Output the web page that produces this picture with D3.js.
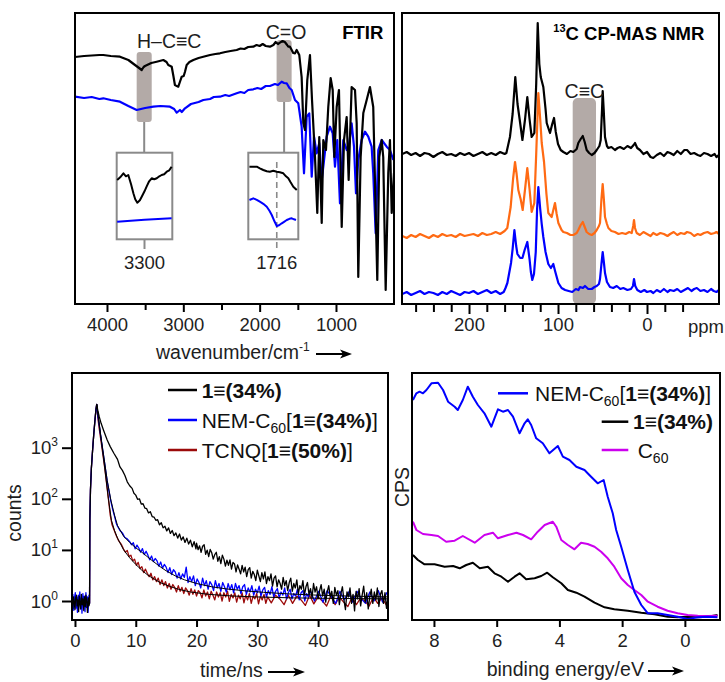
<!DOCTYPE html>
<html>
<head>
<meta charset="utf-8">
<script src="https://cdn.jsdelivr.net/npm/d3@7"></script>
<style>
  body { margin: 0; background: #fff; }
  svg { font-family: "Liberation Sans", Arial, sans-serif; }
</style>
</head>
<body>
<svg id="fig" width="725" height="682"></svg>
<script>
// ---------- FTIR (wavenumber, arbitrary transmittance) ----------
var ftirBlack = [[4419,247],[4300,248],[4200,248.5],[4100,249],[4048,249],[3950,248],[3830,247.3],[3720,244],[3633,239],[3580,236],[3545,234],[3520,237],[3502,238],[3420,241],[3349,242.3],[3262,244],[3220,242],[3197,239],[3170,238],[3152,237.3],[3130,228],[3110,219],[3085,218],[3066,217.3],[3045,222],[3021,227.3],[2995,228],[2978,232.3],[2956,239],[2920,242],[2869,244],[2800,246],[2738,247.3],[2650,249],[2580,250],[2520,250.7],[2450,252],[2380,253],[2301,254],[2250,255.5],[2200,255],[2150,257],[2083,257.3],[2040,259],[2000,258],[1960,260],[1920,258],[1865,257.3],[1820,259],[1790,262],[1760,260],[1734,261.3],[1700,263],[1670,262],[1640,259],[1625,257.3],[1603,257.3],[1580,254],[1560,251],[1537,250.7],[1515,254],[1481,249],[1450,227],[1428,181],[1406,174],[1376,224],[1341,249],[1314,204],[1275,147],[1245,91],[1219,167],[1187,81],[1166,164],[1131,154],[1101,197],[1070,226],[1043,214],[1022,147],[991,197],[961,214],[925,77],[895,164],[860,187],[834,124],[795,217],[751,214],[729,181],[708,27],[677,147],[642,191],[598,204],[555,217],[512,197],[459,24],[433,147],[401,164],[381,147],[349,14],[315,131],[293,164],[270,91],[240,131]];
var ftirBlue = [[4419,207.3],[4300,206],[4200,207],[4100,205],[4048,205.7],[3950,204],[3830,202.3],[3720,198],[3611,194],[3500,196],[3393,197.3],[3300,198],[3175,197.3],[3120,195],[3087,191.3],[3060,193],[3044,194],[3020,192],[2978,195.7],[2900,200],[2800,202],[2738,204],[2650,205],[2600,207],[2520,207.3],[2450,209],[2400,208],[2301,210.7],[2250,212],[2200,211],[2150,214],[2083,214.7],[2030,216],[1980,215],[1920,218],[1865,218],[1800,220],[1760,219],[1712,222.3],[1680,221],[1646,220.7],[1610,216],[1580,214],[1537,204],[1494,200.7],[1450,177.3],[1419,130.7],[1384,187.3],[1350,190.7],[1318,127.3],[1288,167.3],[1253,150.7],[1219,160.7],[1187,124],[1166,137.3],[1122,167.3],[1079,177.3],[1043,170.7],[1013,137.3],[983,164],[948,100.7],[904,164],[860,154],[826,160.7],[795,180.7],[764,157.3],[738,110.7],[708,144],[664,164],[620,172.3],[577,167.3],[533,157.3],[512,130.7],[480,70.7],[446,154],[401,164],[336,157.3],[293,154],[249,144]];
var ftirTicks = [4000,3500,3000,2500,2000,1500,1000];
var ftirLabels = [4000,3000,2000,1000];
// highlighted bands [wn from, wn to, v low, v high]
var bandCH = [3611,3414,182,252];
var bandCO = [1778,1581,202,264];

// insets
var insetCHBlack = [[3418,59.3],[3405,62],[3391,66],[3380,63],[3370,64.3],[3358,55],[3348,46],[3340,40],[3331,36.6],[3320,39],[3312,42.6],[3300,48],[3291,52.6],[3280,58],[3269,61],[3258,60],[3247,61],[3236,63],[3226,64.3],[3215,65],[3204,67.6],[3193,69],[3183,72.6]];
var insetCHBlue = [[3418,17.6],[3300,19.5],[3183,21]];
var insetCOBlack = [[1787,72.6],[1768,72.6],[1760,71],[1751,69.3],[1742,68],[1734,67.6],[1725,68.5],[1716,67.6],[1708,67],[1699,66],[1692,63],[1686,61],[1680,57],[1673,52.6],[1664,49.3]];
var insetCOBlue = [[1787,39.3],[1777,41],[1768,39.5],[1760,37.6],[1751,35.5],[1742,32.6],[1735,28.5],[1729,24.3],[1722,18],[1716,13.3],[1710,14],[1703,16],[1697,17.5],[1690,19.3],[1683,20.5],[1677,21],[1671,20],[1666,19.3]];

// ---------- 13C NMR (ppm, arbitrary) ----------
var nmrBlack = [[275,150],[270,152],[265,149],[260,151],[255,148],[250,151],[245,150],[240,147],[235,150],[230,152],[225,149],[220,150],[215,148],[210,151],[205,149],[200,151],[195,148],[190,150],[185,152],[180,149],[175,151],[170,149],[165,152],[160,150],[158,151],[154,167],[151,190],[148,227],[145.5,200],[143,184],[140,164],[137,185],[134.5,207],[132,185],[129.6,167],[126.6,171],[124.5,220],[122.8,281],[121,240],[119.4,227],[116.5,217],[114,195],[112.7,181],[109,171],[106.5,180],[104.5,186],[102.5,172],[100,160],[97,154],[94,152],[90,150],[86,153],[82.8,152],[79,155],[77.2,161],[74.5,165],[72.2,168],[70,162],[67.8,154],[65,151],[62.1,149],[59,151],[56.5,154],[53.5,158],[52,164],[50.5,195],[49.8,213],[48.7,195],[47.2,167],[45,158],[43.4,156],[40,157],[36,154],[33,156],[30.3,157],[26,155],[22,158],[18,156],[15,159],[13.5,161],[11,156],[7.9,154],[4,150],[0,152],[-4,147],[-7,146],[-11,149],[-15,151],[-19,148],[-23,152],[-26,151],[-30,149],[-34,153],[-38,150],[-42,154],[-45,154],[-49,150],[-53,151],[-57,149],[-60,148],[-64,151],[-68,150],[-72,148],[-76,150],[-78,147],[-81,149]];
var nmrOrange = [[275,68],[270,66],[265,69],[260,67],[255,70],[250,68],[245,66],[240,69],[235,67],[230,70],[225,68],[220,69],[215,67],[210,70],[205,68],[200,69],[195,70],[190,68],[185,71],[180,69],[175,70],[170,72],[165,70],[160,73],[157,76],[153.2,97],[150.5,125],[148.3,142],[146.5,130],[144.6,114],[142,105],[139.7,94],[137,115],[134.5,136],[132,115],[129.6,92],[126.6,101],[124.5,150],[122.1,211],[120,185],[118.3,161],[115.7,142],[113,110],[110.9,91],[107.1,87],[105,95],[103.4,101],[101.5,90],[99.6,81],[96,74],[94,72],[90,71],[86,69],[82.8,69],[79,71],[77.2,74],[74.5,79],[72.2,82],[70,77],[67.8,72],[65,70],[62.1,69],[59,71],[56.5,74],[54,78],[52.8,81],[51.2,105],[49.8,120],[48.5,105],[47.2,87],[45,80],[43.4,76],[40,73],[36,72],[32,70],[28,71],[24,70],[20,72],[17.2,71],[15.5,78],[14.6,84],[13.5,76],[11.6,71],[8,69],[4,72],[0,70],[-4,68],[-7,71],[-11,69],[-15,71],[-19,70],[-23,68],[-26,70],[-30,72],[-34,69],[-38,71],[-42,70],[-45,72],[-49,71],[-53,68],[-57,70],[-60,69],[-64,71],[-68,72],[-72,70],[-76,71],[-78,72],[-81,70]];
var nmrBlue = [[275,10],[270,12],[265,9],[260,11],[255,13],[250,10],[245,12],[240,11],[235,9],[230,12],[225,10],[220,13],[215,11],[210,9],[205,12],[200,11],[195,13],[190,10],[185,12],[180,14],[175,11],[170,13],[165,10],[161,12],[159,16],[156.9,21],[152.8,41],[151,55],[149,74],[147,58],[145.6,50],[142.5,46],[140,46],[137.5,54],[134.5,62],[132,45],[130.5,32],[128.9,24],[127,30],[125,52],[123.5,95],[122.1,117],[120,95],[118.3,80],[116.5,67],[114,52],[110.9,40],[108,36],[105.3,40],[103,32],[99.6,21],[96,16],[92,14],[88,13],[84,12],[80,15],[77,14],[75.3,17],[72,16],[69.7,18],[66,15],[62.1,15],[59,17],[56.5,18],[54,20],[52.8,25],[51.2,40],[49.8,52],[48.5,42],[47.2,31],[45,22],[41.6,17],[38,16],[34,18],[30,15],[26.6,16],[22,14],[18,15],[15.8,18],[14.6,25],[13.2,18],[10.9,14],[7,12],[3,14],[0,12],[-4,13],[-7.1,11],[-11,14],[-15,12],[-19,15],[-23,12],[-26,14],[-30,13],[-34,15],[-38,12],[-42,14],[-46,16],[-50,13],[-53,15],[-56,16],[-60,13],[-64,14],[-68,12],[-72,15],[-75,13],[-78,12],[-81,14]];
var nmrTicks = [260,240,220,200,180,160,140,120,100,80,60,40,20,0,-20,-40];
var nmrLabels = [200,100,0];
var bandCC = [83.5,57.3,0,206];

// ---------- fluorescence decay (time/ns, counts) ----------
var decayBlack = [[-0.45,1.0],[-0.35,0.72],[-0.25,1.2],[-0.1,0.9],[0.0,0.68],[0.1,1.15],[0.25,1.3],[0.35,0.8],[0.45,1.05],[0.6,0.62],[0.7,1.25],[0.8,0.95],[0.95,0.7],[1.05,1.35],[1.2,0.85],[1.3,1.1],[1.45,0.65],[1.55,1.2],[1.7,0.78],[1.8,1.3],[1.95,0.95],[2.05,0.6],[2.2,1.15],[2.3,0.8],[2.4,0.9],[2.45,40],[2.55,150],[2.7,400],[2.9,900],[3.1,1900],[3.3,3600],[3.45,5600],[3.58,7050],[3.75,5400],[4.0,4000],[4.3,3000],[4.7,2200],[5.3,1415],[5.8,1050],[6.4,780],[7.0,590],[7.4,420],[7.8,360],[8.2,290],[8.6,215],[9.0,180],[9.4,160],[9.7,128],
[10.0,118],[10.3,98],[10.6,100],[10.9,79],[11.2,80],[11.5,66],[11.8,64],[12.1,53],[12.4,56],[12.7,45],[13.0,44],[13.3,38],[13.6,39],[13.9,31],[14.2,34],[14.5,27],[14.8,29],[15.1,23.5],[15.4,27],[15.7,21],[16.0,24],[16.3,19],[16.6,21.5],[16.9,17],[17.2,20.5],[17.5,15.5],[17.8,18],[18.1,14],[18.4,17],[18.7,13],[19.0,15.5],[19.3,11.5],[19.6,14.5],[19.9,10.5],
[20.0,13.6],[20.25,10.1],[20.5,12.0],[20.75,9.0],[21.0,11.8],[21.25,12.6],[21.5,8.2],[21.75,9.9],[22.0,7.4],[22.25,10.2],[22.5,8.8],[22.75,6.6],[23.0,8.1],[23.25,9.0],[23.5,6.0],[23.75,7.4],[24.0,5.4],[24.25,7.9],[24.5,6.6],[24.75,4.8],[25.0,6.3],[25.25,5.0],[25.5,6.4],[25.75,4.2],[26.0,5.7],[26.25,5.3],[26.5,3.7],[26.75,5.1],[27.0,4.2],[27.25,3.4],[27.5,5.0],[27.75,3.7],[28.0,4.6],[28.25,3.0],[28.5,4.1],[28.75,4.5],[29.0,2.8],[29.25,3.8],[29.5,3.3],[29.75,2.5],[30.0,4.0],[30.25,3.1],[30.5,2.4],[30.75,3.6],[31.0,2.7],[31.25,3.7],[31.5,2.2],[31.75,3.0],[32.0,2.5],[32.25,3.4],[32.5,1.95],[32.75,2.8],[33.0,3.1],[33.25,1.9],[33.5,2.6],[33.75,2.2],[34.0,1.7],[34.25,2.9],[34.5,2.0],[34.75,2.5],[35.0,1.6],[35.25,2.3],[35.5,2.8],[35.75,1.55],[36.0,2.2],[36.25,1.8],[36.5,2.6],[36.75,1.4],[37.0,2.0],[37.25,1.7],[37.5,2.5],[37.75,1.3],[38.0,1.9],[38.25,2.3],[38.5,1.35],[38.75,1.75],[39.0,1.15],[39.25,2.2],[39.5,1.5],[39.75,1.9],[40.0,1.1],[40.25,1.6],[40.5,2.1],[40.75,1.25],[41.0,1.7],[41.25,0.95],[41.5,1.5],[41.75,2.0],[42.0,1.2],[42.25,1.55],[42.5,0.9],[42.75,1.85],[43.0,1.3],[43.25,1.6],[43.5,0.85],[43.75,1.4],[44.0,1.9],[44.25,1.05],[44.5,0.68],[44.75,1.5],[45.0,1.2],[45.25,1.8],[45.5,0.9],[45.75,1.35],[46.0,0.64],[46.25,1.55],[46.5,1.1],[46.75,1.75],[47.0,0.8],[47.25,1.3],[47.5,1.95],[47.75,0.95],[48.0,1.45],[48.25,0.7],[48.5,1.2],[48.75,1.7],[49.0,0.9],[49.25,1.5],[49.5,1.05],[49.75,1.8],[50.0,0.78],[50.25,1.35],[50.5,1.6],[50.75,0.9],[51.0,1.45],[51.25,0.72],[51.5,1.25],[51.75,1.7],[52.0,1.0],[52.2,1.4]];
var decayBlue = [[-0.45,0.8],[-0.35,1.35],[-0.2,0.66],[-0.1,1.1],[0.05,1.45],[0.15,0.72],[0.3,1.2],[0.4,0.6],[0.55,1.3],[0.65,0.9],[0.8,1.5],[0.9,0.7],[1.05,1.15],[1.15,0.58],[1.3,1.4],[1.4,0.85],[1.55,1.25],[1.65,0.62],[1.8,1.45],[1.9,0.75],[2.05,1.2],[2.15,0.6],[2.3,1.3],[2.4,0.9],[2.45,40],[2.55,150],[2.7,400],[2.9,900],[3.1,1900],[3.3,3600],[3.45,5600],[3.58,7050],[3.75,4300],[4.0,2700],[4.3,1500],[4.6,850],[4.9,480],[5.3,220],[5.6,140],[5.9,90],[6.2,62],[6.5,46],[6.8,33],[7.0,29],[7.4,24],[7.8,21.5],[8.2,17.5],[8.6,16.5],
[9.0,14.5],[9.3,12.6],[9.6,13.8],[9.9,10.5],[10.2,12.4],[10.5,10.9],[10.8,9.0],[11.1,10.6],[11.4,8.1],[11.7,9.4],[12.0,7.9],[12.3,6.4],[12.6,7.6],[12.9,5.9],[13.2,6.8],[13.5,6.1],[13.8,4.8],[14.1,5.8],[14.4,4.4],[14.7,5.2],[15.0,4.6],[15.3,3.6],[15.6,4.5],[15.9,3.3],[16.2,4.1],[16.5,3.7],[16.8,2.8],[17.1,3.6],[17.4,2.7],[17.7,3.4],[18.0,2.9],[18.3,4.6],[18.6,2.3],[18.9,3.0],[19.2,2.4],[19.5,3.1],[19.8,2.0],[20.1,2.7],[20.4,2.3],[20.7,1.8],[21.0,2.8],[21.3,2.0],[21.6,2.5],[21.9,1.7],[22.2,2.4],[22.5,2.1],[22.8,1.6],[23.1,2.5],[23.4,1.8],[23.7,2.2],[24.0,1.55],[24.3,2.3],[24.6,1.9],[24.9,1.5],[25.2,2.2],[25.5,1.65],[25.8,2.1],[26.1,1.45],[26.4,2.2],[26.7,1.7],[27.0,2.0],[27.3,1.4],[27.6,1.9],[27.9,2.1],[28.2,1.35],[28.5,1.8],[28.8,1.5],[29.1,2.0],[29.4,1.3],[29.7,1.7],[30.0,1.45],[30.3,1.95],[30.6,1.25],[30.9,1.65],[31.2,1.85],[31.5,1.2],[31.8,1.6],[32.1,1.35],[32.4,1.9],[32.7,1.2],[33.0,1.55],[33.3,1.75],[33.6,1.15],[33.9,1.5],[34.2,1.3],[34.5,1.8],[34.8,1.1],[35.1,1.45],[35.4,1.7],[35.7,1.1],[36.0,1.4],[36.3,1.25],[36.6,1.7],[36.9,1.05],[37.2,1.45],[37.5,1.6],[37.8,1.0],[38.1,1.4],[38.4,1.2],[38.7,1.6],
[39.4,1.0],[40.1,1.55],[40.8,0.95],[41.5,1.6],[42.2,1.2],[42.9,0.9],[43.6,1.55],[44.3,1.05],[45.0,1.5],[45.7,0.95],[46.4,1.55],[47.1,1.1],[47.8,0.9],[48.5,1.5],[49.2,1.0],[49.9,1.6],[50.6,0.95],[51.3,1.45],[52.2,1.2]];
var decayRed = [[2.4,0.9],[2.45,40],[2.55,150],[2.7,400],[2.9,900],[3.1,1900],[3.3,3600],[3.45,5600],[3.58,7050],[3.75,3900],[4.0,2300],[4.3,1300],[4.6,720],[4.9,400],[5.2,200],[5.5,100],[5.8,48],[6.1,31],[6.4,25],[6.8,19],[7.2,15],[7.6,13],
[8.0,10.4],[8.3,9.0],[8.6,9.8],[8.9,7.4],[9.2,7.9],[9.5,6.1],[9.8,6.6],[10.1,5.0],[10.4,5.7],[10.7,4.3],[11.0,4.7],[11.3,3.6],[11.6,4.2],[11.9,3.5],[12.2,3.0],[12.5,3.5],[12.8,2.6],[13.1,3.0],[13.4,2.4],[13.7,2.8],[14.0,2.1],[14.3,2.6],[14.6,2.0],[14.9,2.4],[15.2,1.8],[15.5,2.2],[15.8,1.7],[16.1,2.1],[16.4,1.85],[16.7,1.5],[17.0,2.0],[17.3,1.55],[17.6,1.85],[17.9,1.4],[18.2,1.8],[18.5,1.6],[18.8,1.3],[19.1,1.75],[19.4,1.35],[19.7,1.65],[20.0,1.25],[20.3,1.6],[20.6,1.45],[20.9,1.15],[21.2,1.65],[21.5,1.25],[21.8,1.5],[22.1,1.1],[22.4,1.55],[22.7,1.3],[23.0,1.05],[23.3,1.5],[23.6,1.2],[23.9,1.45],[24.2,1.0],[24.5,1.45],[24.8,1.2],[25.1,1.55],[25.4,0.98],[25.7,1.35],[26.0,1.15],[26.3,1.45],[26.6,0.95],[26.9,1.3],[27.2,1.1],[27.5,1.45],[27.8,0.92],[28.1,1.3],[28.4,1.05],[28.7,1.4],[29.0,0.9],[29.3,1.25],[29.6,1.1],[29.9,1.4],[30.2,0.88],[30.5,1.25],[30.8,1.05],[31.1,1.35],[31.4,0.9],[31.7,1.2],
[32.3,0.92],[33.0,1.3],[33.7,1.1],[34.4,0.85],[35.1,1.3],[35.8,0.9],[36.5,1.25],[37.2,1.05],[37.9,0.82],[38.6,1.3],[39.3,0.88],[40.0,1.2],[40.7,1.0],[41.4,0.8],[42.1,1.25],[42.8,0.85],[43.5,1.2],[44.2,0.95],[44.9,0.78],[45.6,1.2],[46.3,0.85],[47.0,1.15],[47.7,1.0],[48.4,0.8],[49.1,1.2],[49.8,0.9],[50.5,1.15],[51.2,0.85],[52.2,1.05]];
var fitBlue = [[3.58,7050],[4.2,1800],[4.8,600],[5.3,230],[5.9,95],[6.5,48],[7.0,30],[8.0,18.5],[9.0,14],[10.0,11],[11.0,9.0],[12.0,7.2],[13.0,5.8],[14.0,4.7],[15.0,3.9],[16.5,3.1],[18.0,2.6],[20.0,2.2],[22.5,1.9],[25.0,1.72],[28,1.58],[31,1.48],[35,1.38],[40,1.3],[45,1.25],[52,1.2]];
var fitRed = [[3.58,7050],[4.3,1500],[4.9,400],[5.5,100],[6.0,38],[6.5,24],[7.0,17],[8.0,10],[9.0,7.0],[10.0,5.2],[11.0,4.0],[12.0,3.2],[13.0,2.7],[14.0,2.3],[15.5,1.95],[17.0,1.7],[19,1.5],[22,1.35],[26,1.25],[30,1.2],[36,1.15],[44,1.12],[52,1.1]];
var decayTicksX = [0,10,20,30,40];
var decayTicksY = [1,10,100,1000];

// ---------- XPS valence band (binding energy/eV, CPS) ----------
var xpsBlue = [[8.67,220],[8.56,226.7],[8.46,228.3],[8.35,226.7],[8.24,230],[8.08,236.7],[7.87,237.3],[7.71,230],[7.55,218.3],[7.34,213.3],[7.24,210],[7.08,220],[6.92,233.3],[6.76,223.3],[6.60,215],[6.39,206.7],[6.17,193.3],[6.07,201.7],[5.96,210.7],[5.80,208.3],[5.64,210],[5.48,203.3],[5.27,186.7],[5.11,196.7],[5.01,200.7],[4.90,195],[4.74,181.7],[4.53,176.7],[4.32,166.7],[4.05,174],[3.89,163.3],[3.68,160],[3.46,153.3],[3.20,150],[2.99,143.3],[2.78,136.7],[2.59,140],[2.46,123.3],[2.30,106.7],[2.19,90],[2.03,73.3],[1.82,50],[1.61,28.3],[1.39,15],[1.18,6.7],[0.87,6.7],[0.55,5],[0.23,3.3],[-0.09,1],[-0.41,2.7],[-0.73,3.3],[-1.04,2.7]];
var xpsMagenta = [[8.67,98.3],[8.56,90],[8.35,86],[8.08,85],[7.87,84],[7.61,78.3],[7.34,79.3],[7.08,84],[6.70,77.3],[6.39,85],[6.12,87.3],[5.96,81.7],[5.64,85],[5.37,87.3],[5.16,85],[4.90,80.7],[4.69,88.3],[4.47,95],[4.21,98.3],[4.10,93.3],[3.94,80],[3.73,75],[3.52,70.7],[3.31,77.3],[3.10,76],[2.88,73.3],[2.67,68.3],[2.46,61.7],[2.25,53.3],[2.03,41.7],[1.82,35],[1.61,30],[1.39,25],[1.18,18.3],[0.87,13.3],[0.55,9.3],[0.23,6.7],[-0.09,5],[-0.41,4.3],[-0.73,4],[-1.04,4.3]];
var xpsBlack = [[8.67,65],[8.51,60],[8.30,55.7],[7.98,55.7],[7.66,53.3],[7.39,54],[7.18,51.7],[6.97,55],[6.76,57.3],[6.54,51.7],[6.28,53.3],[6.07,46.7],[5.85,43.3],[5.64,38.3],[5.43,43.3],[5.27,46.7],[5.06,40.7],[4.79,41.7],[4.58,44],[4.39,47.3],[4.21,42.7],[3.94,36.7],[3.73,30],[3.46,27.3],[3.20,23.3],[2.88,17.3],[2.56,12.7],[2.25,10.7],[1.82,9.3],[1.39,7.3],[0.97,5.7],[0.55,3.3],[0.23,2.7],[-0.09,3.3],[-0.41,2.7],[-0.73,3.3],[-1.04,5]];
var xpsTicks = [8,6,4,2,0];

var BLUE = '#0000ff', ORANGE = '#ff6a13', RED = '#9b0a0a', MAGENTA = '#cc00ee', BAND = '#b3aaa7', GREY = '#8a8a8a';

const svg = d3.select('#fig');
const FS = 19.5;
const TXT = '#1e1e1e';

function frame(box) {
    svg.append('rect')
        .attr('x', box.left).attr('y', box.top)
        .attr('width', box.right - box.left).attr('height', box.bottom - box.top)
        .attr('fill', 'none').attr('stroke', '#000').attr('stroke-width', 2);
}

function clipFor(id, box) {
    svg.append('clipPath').attr('id', id).append('rect')
        .attr('x', box.left).attr('y', box.top)
        .attr('width', box.right - box.left).attr('height', box.bottom - box.top);
    return svg.append('g').attr('clip-path', `url(#${id})`);
}

function curve(g, data, x, y, color, w) {
    g.append('path').datum(data)
        .attr('fill', 'none').attr('stroke', color).attr('stroke-width', w)
        .attr('stroke-linejoin', 'round')
        .attr('d', d3.line().x(d => x(d[0])).y(d => y(d[1])));
}

function bottomAxis(x, box, ticks, labels, size) {
    let ax = d3.axisBottom(x).tickValues(ticks)
        .tickFormat(d => labels.includes(d) ? d : '')
        .tickSize(size).tickSizeOuter(0);
    let g = svg.append('g').attr('transform', `translate(0,${box.bottom})`).call(ax);
    g.select('.domain').remove();
    g.selectAll('line').attr('stroke', '#000').attr('stroke-width', 2)
        .attr('y2', d => labels.includes(d) ? size : size - 2);
    g.selectAll('text').attr('font-size', 18.5).attr('fill', TXT)
        .attr('font-family', '"Liberation Sans", Arial, sans-serif').attr('y', 14);
    return g;
}

function arrow(x1, x2, y) {
    svg.append('line').attr('x1', x1).attr('x2', x2 - 6).attr('y1', y).attr('y2', y)
        .attr('stroke', '#000').attr('stroke-width', 2);
    svg.append('path').attr('d', `M${x2},${y} L${x2 - 12},${y - 4.5} L${x2 - 9},${y} L${x2 - 12},${y + 4.5} Z`)
        .attr('fill', '#000');
}

function label(x, y, txt, opts) {
    opts = opts || {};
    return svg.append('text').attr('x', x).attr('y', y)
        .attr('font-size', opts.size || FS)
        .attr('font-weight', opts.bold ? 'bold' : 'normal')
        .attr('text-anchor', opts.anchor || 'start')
        .attr('fill', opts.fill || TXT)
        .text(txt);
}

// ===== panel 1 : FTIR =====
const ftirBox = {left: 75, right: 394, top: 13, bottom: 304};
const ftirX = d3.scaleLinear().domain([4419, 240]).range([ftirBox.left, ftirBox.right]);
const ftirY = d3.scaleLinear().domain([0, 291]).range([ftirBox.bottom, ftirBox.top]);

const gF = clipFor('clipF', ftirBox);
[bandCH, bandCO].forEach(b => {
    gF.append('rect')
        .attr('x', ftirX(b[0])).attr('width', ftirX(b[1]) - ftirX(b[0]))
        .attr('y', ftirY(b[3])).attr('height', ftirY(b[2]) - ftirY(b[3]))
        .attr('rx', 3).attr('fill', BAND);
});
curve(gF, ftirBlue, ftirX, ftirY, BLUE, 2.2);
curve(gF, ftirBlack, ftirX, ftirY, '#000', 2.2);

// insets (box pixel layout, own scales)
function inset(bx, wnDomain, blackData, blueData, band, markWn, dashed) {
    let ix = d3.scaleLinear().domain(wnDomain).range([bx[0], bx[1]]);
    let iy = d3.scaleLinear().domain([0, 86.6]).range([239.3, 152.7]);
    let cx = ftirX((band[0] + band[1]) / 2);
    // connector from band to box
    svg.append('line').attr('x1', cx).attr('x2', cx)
        .attr('y1', ftirY(band[2])).attr('y2', 152.7)
        .attr('stroke', GREY).attr('stroke-width', 2);
    svg.append('rect').attr('x', bx[0]).attr('y', 152.7)
        .attr('width', bx[1] - bx[0]).attr('height', 86.6)
        .attr('fill', '#fff').attr('stroke', GREY).attr('stroke-width', 2);
    let mx = ix(markWn);
    if (dashed) {
        svg.append('line').attr('x1', mx).attr('x2', mx).attr('y1', 162).attr('y2', 249)
            .attr('stroke', GREY).attr('stroke-width', 1.6).attr('stroke-dasharray', '6,4');
    } else {
        svg.append('line').attr('x1', mx).attr('x2', mx).attr('y1', 239.3).attr('y2', 249)
            .attr('stroke', GREY).attr('stroke-width', 2);
    }
    curve(svg, blackData, ix, iy, '#000', 2);
    curve(svg, blueData, ix, iy, BLUE, 2);
    label(mx, 268.5, String(markWn), {anchor: 'middle', size: 18.5});
}
inset([116.7, 172.3], [3420, 3180], insetCHBlack, insetCHBlue, bandCH, 3300, false);
inset([248.3, 298.3], [1790, 1660], insetCOBlack, insetCOBlue, bandCO, 1716, true);

frame(ftirBox);
bottomAxis(ftirX, ftirBox, ftirTicks, ftirLabels, 8);

label(ftirX((bandCH[0] + bandCH[1]) / 2) + 25, 48, 'H–C≡C', {anchor: 'middle'});
label(ftirX((bandCO[0] + bandCO[1]) / 2) + 2, 38.8, 'C=O', {anchor: 'middle'});
label(383.3, 38.5, 'FTIR', {anchor: 'end', bold: true, size: 18.5, fill: '#000'});

let wl = label(156, 359, 'wavenumber/cm');
wl.append('tspan').attr('font-size', 12).attr('dy', -8).text('-1');
arrow(316, 352, 354);

// ===== panel 2 : NMR =====
const nmrBox = {left: 402, right: 719, top: 13, bottom: 304};
const nmrX = d3.scaleLinear().domain([275.3, -80.9]).range([nmrBox.left, nmrBox.right]);
const nmrY = d3.scaleLinear().domain([0, 291]).range([nmrBox.bottom, nmrBox.top]);

const gN = clipFor('clipN', nmrBox);
gN.append('rect')
    .attr('x', nmrX(bandCC[0])).attr('width', nmrX(bandCC[1]) - nmrX(bandCC[0]))
    .attr('y', nmrY(bandCC[3])).attr('height', nmrY(bandCC[2]) - nmrY(bandCC[3]))
    .attr('rx', 5).attr('fill', BAND);
curve(gN, nmrBlue, nmrX, nmrY, BLUE, 2.2);
curve(gN, nmrOrange, nmrX, nmrY, ORANGE, 2.2);
curve(gN, nmrBlack, nmrX, nmrY, '#000', 2.2);

frame(nmrBox);
bottomAxis(nmrX, nmrBox, nmrTicks, nmrLabels, 10);
label(688, 333, 'ppm', {size: 18.5});
label(nmrX((bandCC[0] + bandCC[1]) / 2), 98, 'C≡C', {anchor: 'middle'});
let nt = label(704.3, 40, '', {anchor: 'end', bold: true, size: 18.5, fill: '#000'});
nt.append('tspan').attr('font-size', 11).attr('dy', -8).text('13');
nt.append('tspan').attr('dy', 8).text('C CP-MAS NMR');

// ===== panel 3 : decay =====
const decayBox = {left: 72, right: 388, top: 373, bottom: 620};
const decayX = d3.scaleLinear().domain([-0.49, 51.5]).range([decayBox.left, decayBox.right]);
const decayY = d3.scaleLog().domain([0.425, 28970]).range([decayBox.bottom, decayBox.top]);

const gD = clipFor('clipD', decayBox);
curve(gD, decayRed, decayX, decayY, RED, 1.3);
curve(gD, decayBlue, decayX, decayY, BLUE, 1.3);
curve(gD, decayBlack, decayX, decayY, '#000', 1.3);
curve(gD, fitRed, decayX, decayY, '#000', 1);
curve(gD, fitBlue, decayX, decayY, '#000', 1);

frame(decayBox);
bottomAxis(decayX, decayBox, decayTicksX, decayTicksX, 7);
let yAx = svg.append('g').attr('transform', `translate(${decayBox.left},0)`)
    .call(d3.axisLeft(decayY).tickValues(decayTicksY).tickFormat('').tickSize(10).tickSizeOuter(0));
yAx.select('.domain').remove();
yAx.selectAll('line').attr('stroke', '#000').attr('stroke-width', 2);
decayTicksY.forEach(v => {
    let t = label(58, decayY(v) + 6.5, '10', {anchor: 'end', size: 18.5});
    t.append('tspan').attr('font-size', 12).attr('dy', -8).text(Math.round(Math.log10(v)));
});
svg.append('text').attr('transform', 'translate(21,513) rotate(-90)')
    .attr('text-anchor', 'middle').attr('font-size', FS).attr('fill', TXT).text('counts');
label(200, 677, 'time/ns');
arrow(268, 305, 672);

// legend rows: parts are [text, bold, sub]
var decayLegend = [
    {c: '#000', y: 390, parts: [['1≡(34%)', true]]},
    {c: BLUE, y: 420, parts: [['NEM-C', false], ['60', false, 'sub'], ['[', false], ['1≡(34%)', true], [']', false]]},
    {c: RED, y: 450, parts: [['TCNQ[', false], ['1≡(50%)', true], [']', false]]}
];
function legendRow(x1, x2, tx, row) {
    svg.append('line').attr('x1', x1).attr('x2', x2).attr('y1', row.y).attr('y2', row.y)
        .attr('stroke', row.c).attr('stroke-width', 2.5);
    let t = label(tx, row.y + 7.5, '', {fill: '#111', size: 21});
    let wasSub = false;
    row.parts.forEach(p => {
        let s = t.append('tspan').text(p[0]).attr('font-weight', p[1] ? 'bold' : 'normal');
        if (p[2] === 'sub') { s.attr('font-size', 14).attr('dy', 5); wasSub = true; }
        else if (wasSub) { s.attr('dy', -5); wasSub = false; }
    });
}
decayLegend.forEach(r => legendRow(168, 197, 201.7, r));

// ===== panel 4 : XPS =====
const xpsBox = {left: 412, right: 720, top: 373, bottom: 620};
const xpsX = d3.scaleLinear().domain([8.70, -1.12]).range([xpsBox.left, xpsBox.right]);
const xpsY = d3.scaleLinear().domain([0, 247]).range([xpsBox.bottom, xpsBox.top]);

const gX = clipFor('clipX', xpsBox);
curve(gX, xpsBlack, xpsX, xpsY, '#000', 2);
curve(gX, xpsMagenta, xpsX, xpsY, MAGENTA, 2);
curve(gX, xpsBlue, xpsX, xpsY, BLUE, 2);

frame(xpsBox);
bottomAxis(xpsX, xpsBox, xpsTicks, xpsTicks, 7);
svg.append('text').attr('transform', 'translate(409,487) rotate(-90)')
    .attr('text-anchor', 'middle').attr('font-size', FS).attr('fill', TXT).text('CPS');
label(486.7, 676, 'binding energy/eV');
arrow(648, 684, 671);

legendRow(498, 528, 535, {c: BLUE, y: 393.3, parts: [['NEM-C', false], ['60', false, 'sub'], ['[', false], ['1≡(34%)', true], [']', false]]});
legendRow(601.7, 628.3, 633, {c: '#000', y: 421.7, parts: [['1≡(34%)', true]]});
legendRow(601.7, 628.3, 637.7, {c: MAGENTA, y: 450, parts: [['C', false], ['60', false, 'sub']]});
</script>
</body>
</html>
